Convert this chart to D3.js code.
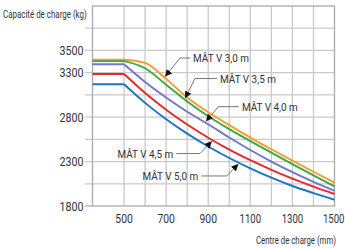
<!DOCTYPE html>
<html><head><meta charset="utf-8">
<script src="https://cdn.jsdelivr.net/npm/d3@7"></script>
<style>
html,body{margin:0;padding:0;background:#fff;}
text{font-family:"Roboto","Liberation Sans",sans-serif;fill:#333;}
</style></head>
<body><svg id="c" width="345" height="249"></svg>
<script>
// ---- data ----
const loadCenters = [350, 500, 600, 700, 800, 900, 1000, 1100, 1200, 1300, 1400, 1500];
const mast30 = [3446, 3446, 3410, 3230, 3020, 2855, 2710, 2570, 2438, 2310, 2185, 2062];
const mast35 = [3430, 3430, 3350, 3165, 2975, 2810, 2665, 2530, 2400, 2272, 2145, 2020];
const mast40 = [3395, 3395, 3195, 3020, 2860, 2720, 2570, 2430, 2300, 2180, 2072, 1972];
const mast45 = [3285, 3285, 3071, 2883, 2716, 2568, 2435, 2315, 2207, 2108, 2018, 1935];
const mast50 = [3170, 3170, 2960, 2776, 2614, 2469, 2340, 2223, 2118, 2025, 1945, 1870];
const seriesNames = ["MÂT V 3,0 m", "MÂT V 3,5 m", "MÂT V 4,0 m", "MÂT V 4,5 m", "MÂT V 5,0 m"];
const seriesColors = ["#f59d2a", "#39a846", "#7276c8", "#e8262d", "#1c75c4"];
const xTickValues = [500, 700, 900, 1100, 1300, 1500];
const xGridValues = [500, 600, 700, 800, 900, 1000, 1100, 1200, 1300, 1400];
const yTickValues = [1800, 2300, 2800, 3300, 3550];
const yTickLabels = ["1800", "2300", "2800", "3300", "3500"];
const yGridValues = [2050, 2300, 2550, 2800, 3050, 3300, 3550, 3800];
// label anchor: [text x (mm), text y (kg), elbow x (mm), tip x (mm)]
const labelPos = [
  [828, 3465, 766, 695],
  [956, 3234, 837, 790],
  [1060, 2917, 948, 889],
  [734, 2390, 861, 917],
  [853, 2138, 988, 1043]
];

const series = [mast30, mast35, mast40, mast45, mast50];

const svg = d3.select("#c");
const x = d3.scaleLinear().domain([350, 1500]).range([92.5, 334.5]);
const y = d3.scaleLinear().domain([1800, 4050]).range([206, 6]);

const gridColor = "#c9c9c9";
svg.append("g").selectAll("line").data(yGridValues).join("line")
  .attr("x1", 85).attr("x2", x(1500))
  .attr("y1", d => y(d)).attr("y2", d => y(d))
  .attr("stroke", gridColor).attr("stroke-width", 1.3);
svg.append("g").selectAll("line").data(xGridValues).join("line")
  .attr("x1", d => x(d)).attr("x2", d => x(d))
  .attr("y1", y(1800)).attr("y2", y(4050))
  .attr("stroke", gridColor).attr("stroke-width", 1.3);
svg.append("rect").attr("x", x(350)).attr("y", y(4050))
  .attr("width", x(1500) - x(350)).attr("height", y(1800) - y(4050))
  .attr("fill", "none").attr("stroke", "#aaa").attr("stroke-width", 1.3);
svg.append("line").attr("x1", 85).attr("x2", x(350)).attr("y1", y(1800)).attr("y2", y(1800))
  .attr("stroke", "#aaa").attr("stroke-width", 1.3);

// condensed text: place text inside a horizontally scaled group
// anchor: "start" | "middle" | "end"
function condText(parent, str, px, py, size, width, anchor) {
  const g = parent.append("g");
  const t = g.append("text").attr("font-size", size).attr("fill", "#333")
    .attr("text-anchor", anchor).text(str);
  const natural = t.node().getComputedTextLength();
  const s = width / natural;
  g.attr("transform", `translate(${px},${py}) scale(${s},1)`);
  return g;
}

// y tick labels (right aligned)
const yLab = svg.append("g");
yTickValues.forEach((v, i) => {
  condText(yLab, yTickLabels[i], x(350) - 9, y(v) + 4.5, 13, yTickLabels[i].length * 6, "end");
});
// x tick labels (centered)
const xLab = svg.append("g");
xTickValues.forEach((v, i) => {
  const s = String(v);
  const w = s.length === 4 ? 21.5 : 17.5;
  const px = Math.min(x(v), 345 - w / 2 - 0.5);
  condText(xLab, s, px, y(1800) + 17, 13, w, "middle");
});

condText(svg, "Capacité de charge (kg)", 3, 18, 10, 84, "start");
condText(svg, "Centre de charge (mm)", 336, 244, 10, 80, "end");

const curveGen = d3.line().x(d => x(d[0])).y(d => y(d[1])).curve(d3.curveMonotoneX);
const flatGen = d3.line().x(d => x(d[0])).y(d => y(d[1]));
series.forEach((vals, si) => {
  const pts = loadCenters.map((c, i) => [c, vals[i]]);
  svg.append("path").attr("d", flatGen(pts.slice(0, 2)))
    .attr("fill", "none").attr("stroke", seriesColors[si]).attr("stroke-width", 1.9);
  svg.append("path").attr("d", curveGen(pts.slice(1)))
    .attr("fill", "none").attr("stroke", seriesColors[si]).attr("stroke-width", 1.9);
});

const interp = (vals, c) => {
  for (let i = 0; i < loadCenters.length - 1; i++) {
    if (c >= loadCenters[i] && c <= loadCenters[i + 1]) {
      const t = (c - loadCenters[i]) / (loadCenters[i + 1] - loadCenters[i]);
      return vals[i] + t * (vals[i + 1] - vals[i]);
    }
  }
  return vals[vals.length - 1];
};
svg.append("defs").append("marker").attr("id", "ah").attr("viewBox", "0 0 10 10")
  .attr("refX", 10).attr("refY", 5).attr("markerWidth", 7).attr("markerHeight", 7)
  .attr("markerUnits", "userSpaceOnUse").attr("orient", "auto")
  .append("path").attr("d", "M0,0L10,5L0,10Z").attr("fill", "#111");

labelPos.forEach((p, i) => {
  const [tx, ty, ex, tipX] = p;
  const tipY = interp(series[i], tipX);
  const leftSide = x(ex) < x(tx);
  const textX = x(tx);
  const lineY = y(ty);
  svg.append("path")
    .attr("d", `M${leftSide ? textX - 3 : textX + 3},${lineY}L${x(ex)},${lineY}L${x(tipX)},${y(tipY) + (i < 3 ? -1.5 : 1.5)}`)
    .attr("fill", "none").attr("stroke", "#777").attr("stroke-width", 1).attr("marker-end", "url(#ah)");
  condText(svg, seriesNames[i], textX, lineY + 4, 11, 56, leftSide ? "start" : "end");
});
</script></body></html>
